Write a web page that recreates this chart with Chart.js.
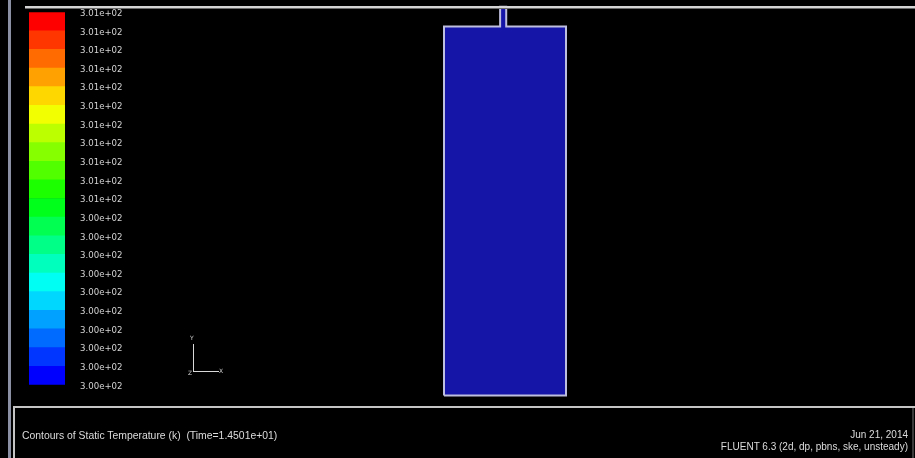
<!DOCTYPE html>
<html>
<head>
<meta charset="utf-8">
<script src="https://cdn.jsdelivr.net/npm/chart.js@4/dist/chart.umd.min.js"></script>
<style>
  html, body { margin: 0; padding: 0; background: #000; }
  #view { position: relative; width: 915px; height: 458px; overflow: hidden; background: #000; }
  canvas { position: absolute; }
  #barCanvas { left: 0; top: -8px; }
  #meshCanvas { left: 0; top: 0; }
  .rule { position: absolute; }
  .txt { position: absolute; font-family: "Liberation Sans", Arial, sans-serif; color: #dcdcdc; white-space: nowrap; }
  .axis { position: absolute; font-family: "DejaVu Sans", sans-serif; font-size: 6px; color: #d0d0d0; }
</style>
</head>
<body>
<div id="view">
  <canvas id="meshCanvas" width="915" height="458"></canvas>
  <canvas id="barCanvas" width="140" height="413"></canvas>

  <!-- window frame -->
  <div class="rule" style="left:8px;top:0;width:3px;height:458px;background:#8c90a4"></div>
  <div class="rule" style="left:25px;top:6px;width:890px;height:2px;background:#d4d4d4"></div>
  <div class="rule" style="left:25px;top:8px;width:890px;height:1px;background:#6a6a6a"></div>
  <div class="rule" style="left:13px;top:406px;width:902px;height:2px;background:#c4c4c4"></div>
  <div class="rule" style="left:13px;top:406px;width:2px;height:52px;background:#c4c4c4"></div>
  <div class="rule" style="left:912px;top:408px;width:2px;height:50px;background:#3a3a3a"></div>

  <!-- axis triad -->
  <div class="rule" style="left:193px;top:344px;width:1px;height:28px;background:#d8d8d8"></div>
  <div class="rule" style="left:193px;top:371px;width:26px;height:1px;background:#d8d8d8"></div>
  <div class="axis" style="left:190px;top:334px">Y</div>
  <div class="axis" style="left:219px;top:367px">X</div>
  <div class="axis" style="left:188px;top:369px">Z</div>

  <!-- captions -->
  <div class="txt" style="left:22px;top:430px;font-size:10.4px">Contours of Static Temperature (k)&nbsp;&nbsp;(Time=1.4501e+01)</div>
  <div class="txt" style="right:7px;top:429px;font-size:10px;text-align:right">Jun 21, 2014</div>
  <div class="txt" style="right:7px;top:441px;font-size:10px;text-align:right">FLUENT 6.3 (2d, dp, pbns, ske, unsteady)</div>
</div>

<script>
// contour levels of static temperature (K), bottom to top
const levels = [300.060, 300.108, 300.156, 300.204, 300.252, 300.300, 300.348,
                300.396, 300.444, 300.492, 300.540, 300.588, 300.636, 300.684,
                300.732, 300.780, 300.828, 300.876, 300.924, 300.972, 301.020];

// fluid zone outline (mm): box with the inlet pipe on top
const zoneX = [0, 40, 40, 20.4, 20.4, 18.4, 18.4, 0, 0];
const zoneY = [0, 0, 121, 121, 127.5, 127.5, 121, 121, 0];

const fmtSci = v => v.toExponential(2).replace(/e([+-])(\d)$/, 'e$10$2');

// blue -> red rainbow, one band per interval
const bandColor = i => `hsl(${240 - i * 240 / (levels.length - 2)}, 100%, 50%)`;

// colour scale
const bands = [];
for (let i = 0; i < levels.length - 1; i++) {
  bands.push({
    data: [[levels[i], levels[i + 1]]],
    backgroundColor: bandColor(i),
    borderWidth: 0,
    borderSkipped: false,
    grouped: false,
    barPercentage: 1,
    categoryPercentage: 1
  });
}

new Chart(document.getElementById('barCanvas'), {
  type: 'bar',
  data: { labels: ['T'], datasets: bands },
  options: {
    responsive: false,
    animation: false,
    layout: { padding: { left: 29, top: 4, bottom: 10, right: 0 } },
    plugins: { legend: { display: false }, tooltip: { enabled: false } },
    scales: {
      x: { display: false },
      y: {
        position: 'right',
        min: levels[0],
        max: levels[levels.length - 1],
        grid: { display: false, drawTicks: false },
        border: { display: false },
        afterBuildTicks(scale) {
          scale.ticks = levels.map(v => ({ value: v }));
        },
        afterFit(scale) { scale.width = 75; },
        ticks: {
          autoSkip: false,
          padding: 15,
          labelOffset: 1.5,
          color: '#d4d4d4',
          font: { family: 'DejaVu Sans', size: 8.6 },
          callback: v => fmtSci(v)
        }
      }
    }
  }
});

// zone contour
const pxPerMm = 3.05;
new Chart(document.getElementById('meshCanvas'), {
  type: 'scatter',
  data: {
    datasets: [{
      data: zoneX.map((x, i) => ({ x, y: zoneY[i] })),
      showLine: true,
      fill: 'shape',
      backgroundColor: 'rgb(21, 21, 168)',
      borderColor: 'rgb(190, 190, 222)',
      borderWidth: 2,
      pointRadius: 0,
      tension: 0
    }]
  },
  options: {
    responsive: false,
    animation: false,
    layout: { padding: 0 },
    plugins: { legend: { display: false }, tooltip: { enabled: false } },
    scales: {
      x: { display: false, min: -444 / pxPerMm, max: (915 - 444) / pxPerMm },
      y: { display: false, min: 121 - (458 - 26.5) / pxPerMm, max: 121 + 26.5 / pxPerMm }
    }
  }
});
</script>
</body>
</html>
